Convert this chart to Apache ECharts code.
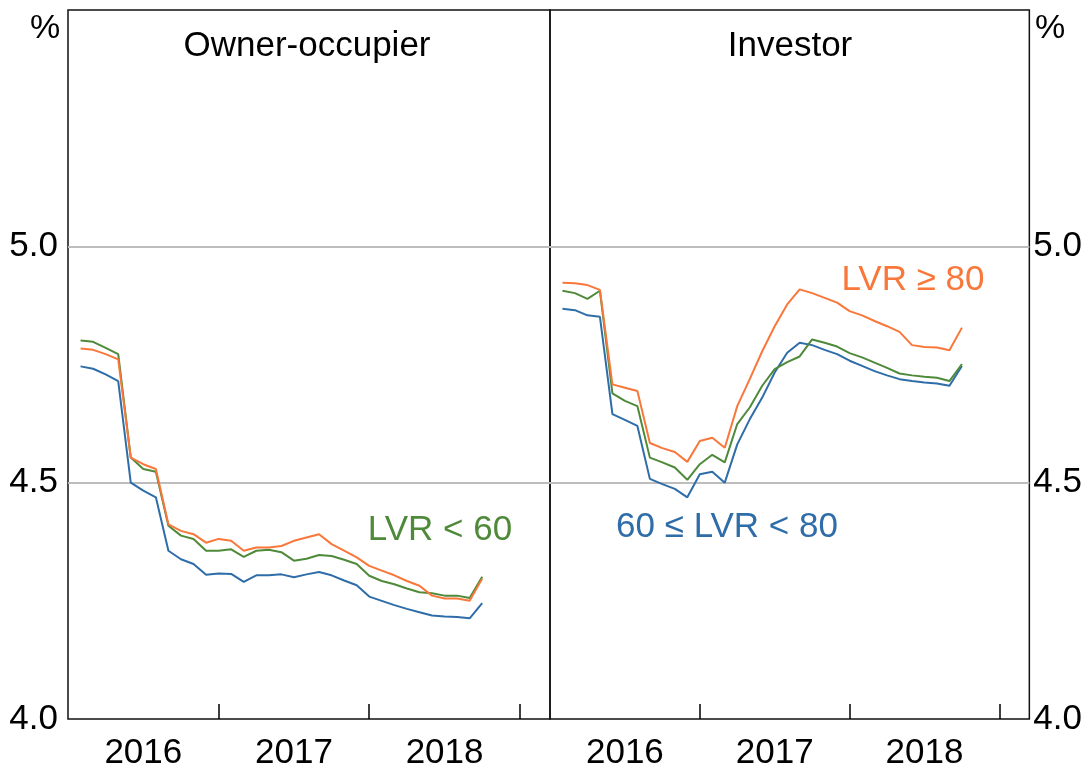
<!DOCTYPE html>
<html>
<head>
<meta charset="utf-8">
<script src="https://cdn.jsdelivr.net/npm/echarts@6/dist/echarts.min.js"></script>
<style>
  html, body { margin: 0; padding: 0; background: #fff; }
  #chart { width: 1085px; height: 771px; }
</style>
</head>
<body>
<div id="chart"></div>
<script>
// month-end observations, Jan 2016 - Sep 2018
const months = [
  '2016-01','2016-02','2016-03','2016-04','2016-05','2016-06','2016-07','2016-08','2016-09','2016-10','2016-11','2016-12',
  '2017-01','2017-02','2017-03','2017-04','2017-05','2017-06','2017-07','2017-08','2017-09','2017-10','2017-11','2017-12',
  '2018-01','2018-02','2018-03','2018-04','2018-05','2018-06','2018-07','2018-08','2018-09'
];
const panels = ['Owner-occupier', 'Investor'];
const yearLabels = [2016, 2017, 2018];
const yTicks = [4.0, 4.5, 5.0, 5.5];

// owner-occupier
const ooLow = [4.801, 4.798, 4.785, 4.772, 4.553, 4.529, 4.523, 4.409, 4.388, 4.381, 4.356, 4.356,
  4.359, 4.343, 4.356, 4.358, 4.353, 4.335, 4.339, 4.347, 4.345, 4.337, 4.328, 4.303,
  4.292, 4.285, 4.276, 4.268, 4.266, 4.261, 4.261, 4.256, 4.301];
const ooMid = [4.746, 4.741, 4.729, 4.715, 4.500, 4.483, 4.469, 4.356, 4.338, 4.328, 4.305, 4.308,
  4.307, 4.290, 4.304, 4.304, 4.306, 4.300, 4.306, 4.311, 4.304, 4.293, 4.283, 4.259,
  4.250, 4.241, 4.233, 4.226, 4.219, 4.217, 4.216, 4.213, 4.245];
const ooHigh = [4.784, 4.781, 4.772, 4.761, 4.553, 4.539, 4.529, 4.412, 4.398, 4.391, 4.373, 4.381,
  4.377, 4.356, 4.363, 4.363, 4.366, 4.377, 4.384, 4.391, 4.370, 4.356, 4.342, 4.324,
  4.314, 4.304, 4.292, 4.282, 4.261, 4.255, 4.255, 4.250, 4.297];

// investor
const invLow = [4.906, 4.901, 4.889, 4.906, 4.689, 4.673, 4.662, 4.553, 4.543, 4.532, 4.506, 4.539,
  4.559, 4.543, 4.624, 4.659, 4.705, 4.740, 4.755, 4.767, 4.803, 4.796, 4.788, 4.774,
  4.765, 4.754, 4.743, 4.731, 4.727, 4.724, 4.722, 4.715, 4.751];
const invMid = [4.868, 4.865, 4.854, 4.851, 4.645, 4.633, 4.620, 4.508, 4.497, 4.487, 4.469, 4.518,
  4.523, 4.500, 4.581, 4.634, 4.680, 4.733, 4.775, 4.796, 4.791, 4.781, 4.772, 4.758,
  4.747, 4.736, 4.727, 4.719, 4.715, 4.712, 4.710, 4.705, 4.747];
const invHigh = [4.923, 4.922, 4.918, 4.908, 4.708, 4.701, 4.694, 4.584, 4.573, 4.565, 4.544, 4.588,
  4.595, 4.574, 4.662, 4.719, 4.778, 4.831, 4.877, 4.909, 4.901, 4.891, 4.881, 4.863,
  4.854, 4.842, 4.831, 4.819, 4.791, 4.787, 4.786, 4.780, 4.828];

const BLUE = '#2E6DA8';
const GREEN = '#4E8A3A';
const ORANGE = '#F9773A';
const FONT = 'Liberation Sans, Arial, sans-serif';

// decimal year at month end
const xs = months.map(s => {
  const [y, m] = s.split('-').map(Number);
  return y + m / 12;
});
const pairs = vals => vals.map((v, i) => [xs[i], v]);

const myChart = echarts.init(document.getElementById('chart'));

const xAxisFor = (gi) => ({
  type: 'value',
  gridIndex: gi,
  min: 2016,
  max: 2019.2,
  interval: 0.5,
  axisLine: { show: false },
  axisTick: {
    show: true, inside: true, length: 15,
    customValues: [2017, 2018, 2019],
    lineStyle: { color: '#000', width: 1.5 }
  },
  axisLabel: {
    customValues: yearLabels.map(y => y + 0.5),
    formatter: v => String(Math.floor(v)),
    color: '#000', fontFamily: FONT, fontSize: 35, margin: 17
  },
  splitLine: { show: false }
});

const yAxisFor = (gi, pos) => ({
  type: 'value',
  gridIndex: gi,
  position: pos,
  min: yTicks[0],
  max: yTicks[yTicks.length - 1],
  interval: 0.5,
  axisLine: { show: false },
  axisTick: { show: false },
  axisLabel: {
    show: true,
    formatter: v => (v >= 5.5 ? '' : v.toFixed(1)),
    color: '#000', fontFamily: FONT, fontSize: 35,
    margin: pos === 'left' ? 10 : 4
  },
  splitLine: {
    show: true, showMinLine: false, showMaxLine: false,
    lineStyle: { color: '#BDBDBD', width: 2 }
  }
});

const line = (name, vals, color, gi) => ({
  name: name,
  type: 'line',
  xAxisIndex: gi,
  yAxisIndex: gi,
  data: pairs(vals),
  showSymbol: false,
  symbol: 'none',
  lineStyle: { color: color, width: 2 },
  itemStyle: { color: color },
  animation: false
});

const option = {
  backgroundColor: '#fff',
  animation: false,
  grid: [
    { left: 68, right: 535, top: 10, bottom: 51, show: true, borderColor: '#111', borderWidth: 1.5, backgroundColor: 'transparent' },
    { left: 550, right: 53, top: 10, bottom: 51, show: true, borderColor: '#111', borderWidth: 1.5, backgroundColor: 'transparent' }
  ],
  xAxis: [xAxisFor(0), xAxisFor(1)],
  yAxis: [yAxisFor(0, 'left'), yAxisFor(1, 'right')],
  series: [
    line('60 ≤ LVR < 80', ooMid, BLUE, 0),
    line('LVR < 60', ooLow, GREEN, 0),
    line('LVR ≥ 80', ooHigh, ORANGE, 0),
    line('60 ≤ LVR < 80', invMid, BLUE, 1),
    line('LVR < 60', invLow, GREEN, 1),
    line('LVR ≥ 80', invHigh, ORANGE, 1)
  ],
  graphic: [
    { type: 'text', left: 30, top: 12, style: { text: '%', font: '34px ' + FONT, fill: '#000' } },
    { type: 'text', left: 1035, top: 12, style: { text: '%', font: '34px ' + FONT, fill: '#000' } },
    { type: 'text', x: 307, y: 46, style: { text: panels[0], font: '35px ' + FONT, fill: '#000', align: 'center', verticalAlign: 'middle' } },
    { type: 'text', x: 790, y: 46, style: { text: panels[1], font: '35px ' + FONT, fill: '#000', align: 'center', verticalAlign: 'middle' } },
    { type: 'text', x: 440, y: 530, style: { text: 'LVR < 60', font: '35px ' + FONT, fill: GREEN, align: 'center', verticalAlign: 'middle' } },
    { type: 'text', x: 913, y: 280, style: { text: 'LVR ≥ 80', font: '35px ' + FONT, fill: ORANGE, align: 'center', verticalAlign: 'middle' } },
    { type: 'text', x: 727, y: 527, style: { text: '60 ≤ LVR < 80', font: '35px ' + FONT, fill: BLUE, align: 'center', verticalAlign: 'middle' } }
  ]
};

myChart.setOption(option);
</script>
</body>
</html>
